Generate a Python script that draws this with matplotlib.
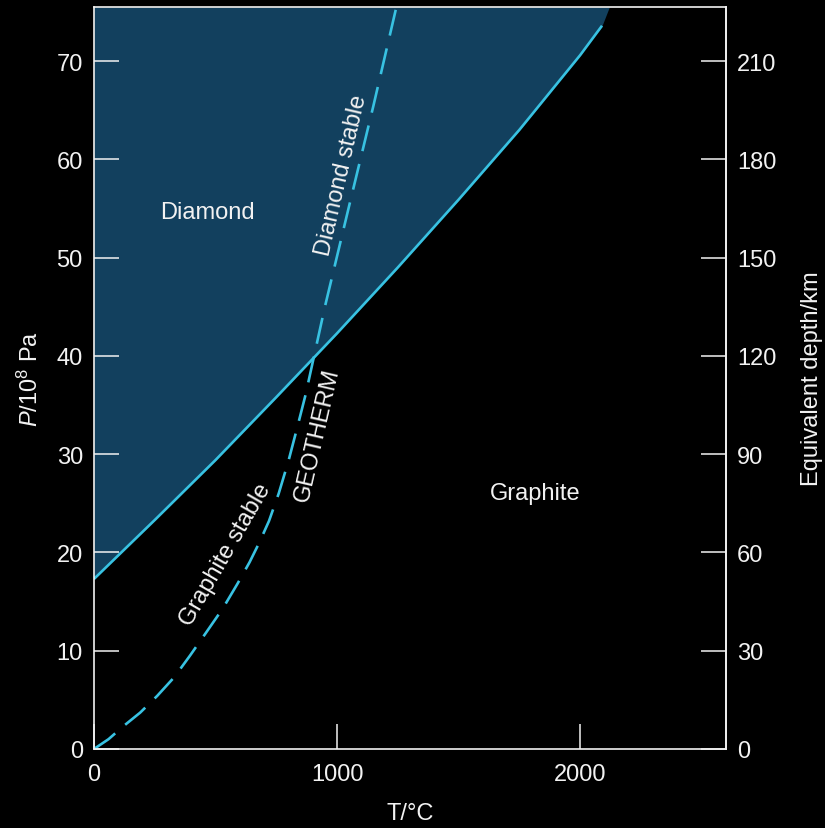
import matplotlib.pyplot as plt
import numpy as np

plt.rcParams['font.family'] = ['Liberation Sans', 'DejaVu Sans']
plt.rcParams['mathtext.fontset'] = 'custom'
plt.rcParams['mathtext.rm'] = 'Liberation Sans'
plt.rcParams['mathtext.it'] = 'Liberation Sans:italic'

# graphite / diamond phase boundary (T in C, P in 1e8 Pa)
t_boundary = [0, 250, 500, 750, 1000, 1250, 1500, 1750, 2000, 2090]
p_boundary = [17.3, 23.3, 29.4, 35.8, 42.3, 49.0, 55.9, 63.0, 70.6, 73.6]

# geotherm
t_geotherm = [0, 60, 120, 190, 260, 330, 395, 460, 530, 590, 640, 680, 720,
              760, 800, 835, 870, 950, 1050, 1150, 1244]
p_geotherm = [0, 1.0, 2.3, 3.7, 5.4, 7.3, 9.5, 11.8, 14.3, 16.8, 19.0, 21.0, 23.2,
              26.0, 29.3, 32.6, 36.0, 45.0, 55.3, 65.5, 75.5]

x_ticks = [0, 1000, 2000]
y_ticks = [0, 10, 20, 30, 40, 50, 60, 70]
depth_ticks = [0, 30, 60, 90, 120, 150, 180, 210]

cyan = '#38c2e2'
fill_col = '#12405e'
white = '#f2f2f2'

fig = plt.figure(figsize=(8.25, 8.29), dpi=100, facecolor='black')
ax = fig.add_axes([0.1139, 0.0953, 0.7661, 0.895])
ax.set_facecolor('black')

ymax = 75.5
ax.fill_between(t_boundary + [2120], p_boundary + [ymax], ymax, color=fill_col, lw=0)
ax.plot(t_boundary, p_boundary, color=cyan, lw=1.9, solid_capstyle='butt')
ax.plot(t_geotherm, p_geotherm, color=cyan, lw=1.9, dashes=(10, 5))

ax.set_xlim(0, 2600)
ax.set_ylim(0, ymax)
ax.set_xticks(x_ticks)
ax.set_yticks(y_ticks)

for s in ax.spines.values():
    s.set_color(white)
    s.set_linewidth(1.2)
ax.tick_params(direction='in', length=18, width=1.1, colors=white, labelsize=17)
ax.tick_params(axis='y', pad=8)
ax.tick_params(axis='x', pad=10)

sec = ax.secondary_yaxis('right', functions=(lambda p: 3 * p, lambda d: d / 3))
sec.set_yticks(depth_ticks)
sec.spines['right'].set_color(white)
sec.spines['right'].set_linewidth(1.2)
sec.tick_params(direction='in', length=18, width=1.1, colors=white, labelsize=17, pad=8)
sec.set_ylabel('Equivalent depth/km', color=white, fontsize=17, labelpad=18)

ax.set_xlabel('T/°C', color=white, fontsize=17, labelpad=12)
ax.set_ylabel(r'$\it{P}$/10$^8$ Pa', color=white, fontsize=17, labelpad=10)

ax.text(465, 54.6, 'Diamond', color=white, fontsize=17, ha='center', va='center')
ax.text(1815, 26, 'Graphite', color=white, fontsize=17, ha='center', va='center')
ax.text(1020, 58.5, 'Diamond stable', color=white, fontsize=17, ha='center', va='center',
        rotation=77, rotation_mode='anchor')
ax.text(920, 32, 'GEOTHERM', color=white, fontsize=17, ha='center', va='center',
        rotation=77, rotation_mode='anchor')
ax.text(542, 19.8, 'Graphite stable', color=white, fontsize=17, ha='center', va='center',
        rotation=60, rotation_mode='anchor')

plt.savefig('out.png', dpi=100, facecolor='black')
